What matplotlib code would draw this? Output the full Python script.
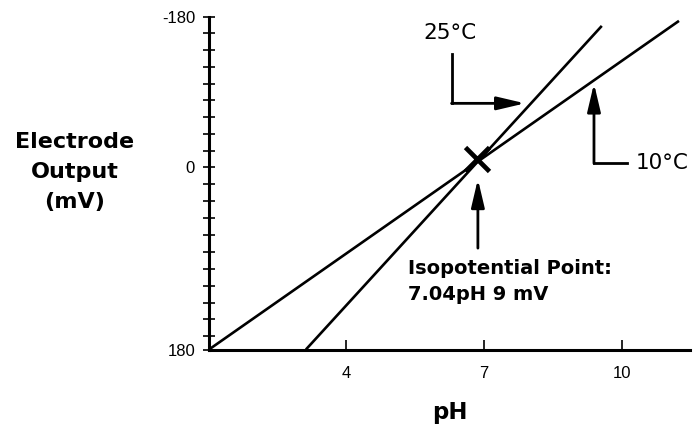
import numpy as np
import matplotlib
matplotlib.use("Agg")
import matplotlib.pyplot as plt

# ---- data ----
line_10c_ph = [1.02, 11.25]
line_10c_mv = [180, -175]
line_25c_ph = [3.13, 9.57]
line_25c_mv = [180, -169]
iso_ph = 6.85
iso_mv = -10
xtick_vals = [4, 7, 10]
xtick_labels = ["4", "7", "10"]
ytick_vals = [-180, 0, 180]
ytick_labels = ["-180", "0", "180"]
label_25c = "25°C"
label_10c = "10°C"
iso_label = "Isopotential Point:\n7.04pH 9 mV"

# piecewise-linear y scale (the reference's upper half is compressed)
K = 1.2085
def fwd(y):
    y = np.asarray(y, dtype=float)
    return np.where(y > 0, y * K, y)
def inv(y):
    y = np.asarray(y, dtype=float)
    return np.where(y > 0, y / K, y)

fig = plt.figure(figsize=(6.93, 4.30), dpi=100)
ax = fig.add_axes([209/693, 1 - 349.5/430, (690 - 209)/693, (349.5 - 16.7)/430])
ax.set_yscale("function", functions=(fwd, inv))
ax.set_xlim(1.02, 11.49)
ax.set_ylim(180, -180)

ax.plot(line_10c_ph, line_10c_mv, color="black", lw=1.9, solid_capstyle="butt")
ax.plot(line_25c_ph, line_25c_mv, color="black", lw=1.9, solid_capstyle="butt")
ax.plot([iso_ph], [iso_mv], marker="x", ms=17, mew=3.4, color="black")

for s in ["top", "right"]:
    ax.spines[s].set_visible(False)
for s in ["left", "bottom"]:
    ax.spines[s].set_linewidth(2.2)

ax.set_xticks(xtick_vals)
ax.set_xticklabels(xtick_labels, fontsize=12, family="Liberation Sans")
ax.set_yticks(ytick_vals)
ax.set_yticklabels(ytick_labels, fontsize=12, family="Liberation Sans")
minor_y = list(np.arange(-160, 0, 20)) + list(np.arange(1, 11) * 16.7)
ax.set_yticks(minor_y, minor=True)
ax.tick_params(axis="y", which="both", direction="inout", length=9, width=1.2, pad=5.5)
ax.tick_params(axis="x", which="major", direction="in", length=7, width=1.2, pad=12)

ax.set_xlabel("pH", fontsize=16.5, fontweight="bold", labelpad=14)
fig.text(75/693, 1 - 172/430, "Electrode\nOutput\n(mV)", ha="center", va="center",
         fontsize=16, fontweight="bold", linespacing=1.62)

arrow = dict(arrowstyle="-|>,head_length=0.85,head_width=0.2", mutation_scale=20,
             color="black", lw=2, shrinkA=0, shrinkB=0)
# isopotential arrow
ax.annotate("", xy=(6.873, 11.6), xytext=(6.873, 79.8), arrowprops=arrow)
ax.text(5.35, 113, iso_label, ha="left", va="center", fontsize=14, fontweight="bold",
        linespacing=1.45)
# 25 C arrow
ax.plot([6.30, 6.30], [-136, -76.5], color="black", lw=2, solid_capstyle="projecting")
ax.annotate("", xy=(7.90, -76.5), xytext=(6.30, -76.5), arrowprops=arrow)
ax.text(6.27, -160, label_25c, ha="center", va="center", fontsize=15.5)
# 10 C arrow
ax.plot([9.40, 10.11], [-4.8, -4.8], color="black", lw=2, solid_capstyle="projecting")
ax.annotate("", xy=(9.40, -100.2), xytext=(9.40, -4.8), arrowprops=arrow)
ax.text(10.31, -5.7, label_10c, ha="left", va="center", fontsize=15.5)

fig.savefig("out.png", dpi=100)
